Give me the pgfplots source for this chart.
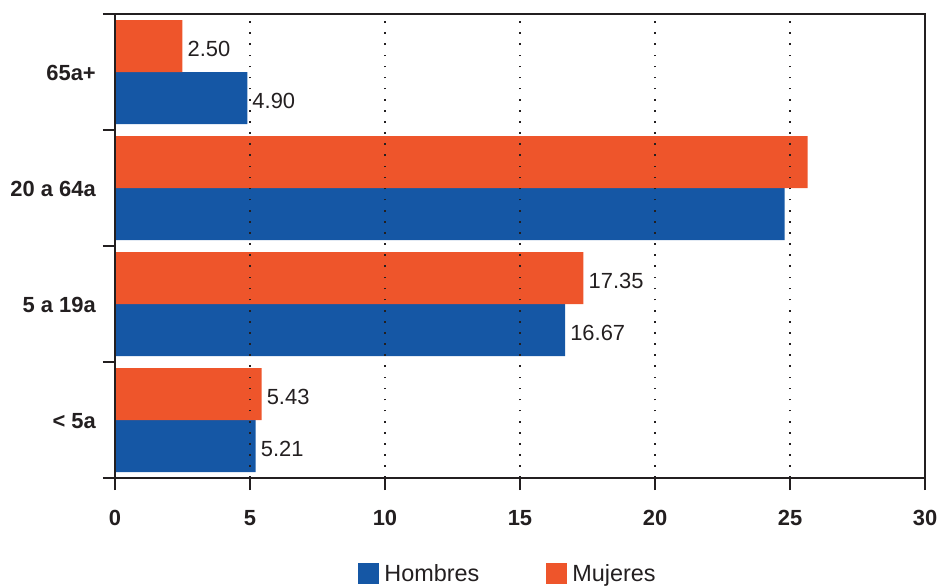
\documentclass[border=0pt]{standalone}
\usepackage{fontspec}
\setmainfont{Liberation Sans}
\usepackage{pgfplots}
\usepackage{pgfplotstable}
\pgfplotsset{compat=1.18}
\definecolor{hbl}{HTML}{1557A5}
\definecolor{mor}{HTML}{EE552B}
\definecolor{axc}{HTML}{231F20}
\pgfplotstableread[col sep=comma]{
cat,h,hl,m,ml
0,5.21,5.21,5.43,5.43
1,16.67,16.67,17.35,17.35
2,24.8,,25.65,
3,4.90,4.90,2.50,2.50
}\datatable
\begin{document}
\begin{tikzpicture}
\begin{axis}[
  at={(0,0)}, anchor=south west,
  scale only axis, width=810bp, height=464bp,
  xbar, bar width=52bp,
  xmin=0, xmax=30, ymin=-0.5, ymax=3.5,
  xtick={0,5,...,30},
  ytick={-0.5,0.5,1.5,2.5,3.5},
  yticklabels={{},{},{},{},{}},
  extra y ticks={0,1,2,3},
  extra y tick labels={{< 5a},{5 a 19a},{20 a 64a},{65a+}},
  extra y tick style={tick style={draw=none}},
  tick pos=left, tick align=outside,
  major tick length=12bp,
  tick style={axc, line width=2bp},
  axis line style={axc, line width=2bp},
  xmajorgrids,
  major x grid style={axc, line width=1.6bp, dash pattern=on 1.6bp off 9.5bp},
  axis on top,
  /pgf/number format/assume math mode=true,
  ticklabel style={font=\fontsize{22}{26}\selectfont\bfseries, text=axc},
  yticklabel style={inner sep=0pt, xshift=-7bp, yshift=-1bp},
  xticklabel style={inner sep=0pt, yshift=-20bp},
  nodes near coords,
  point meta=explicit symbolic,
  every node near coord/.append style={font=\fontsize{22}{26}\selectfont, text=axc, anchor=west, inner sep=0pt, xshift=5bp, yshift=-2.5bp},
  legend style={at={(axis description cs:0.5,0)}, anchor=north, yshift=-85bp, xshift=-13bp, draw=none, fill=none, inner sep=0pt,
     font=\fontsize{23.5}{27}\selectfont, text=axc,
     nodes={inner sep=0pt},
     /tikz/every odd column/.append style={column sep=5bp},
     /tikz/every even column/.append style={column sep=67bp}},
  legend columns=2,
  legend image code/.code={\fill[#1] (0bp,-10.5bp) rectangle (21bp,10.5bp);},
]
\addplot[draw=none, fill=hbl, bar shift=-26bp] table[x=h, y=cat, meta=hl] {\datatable};
\addlegendentry{Hombres}
\addplot[draw=none, fill=mor, bar shift=26bp] table[x=m, y=cat, meta=ml] {\datatable};
\addlegendentry{Mujeres}
\end{axis}
\pgfresetboundingbox
\path[use as bounding box] (-115bp,-110bp) rectangle (825bp,478bp);
\end{tikzpicture}
\end{document}
